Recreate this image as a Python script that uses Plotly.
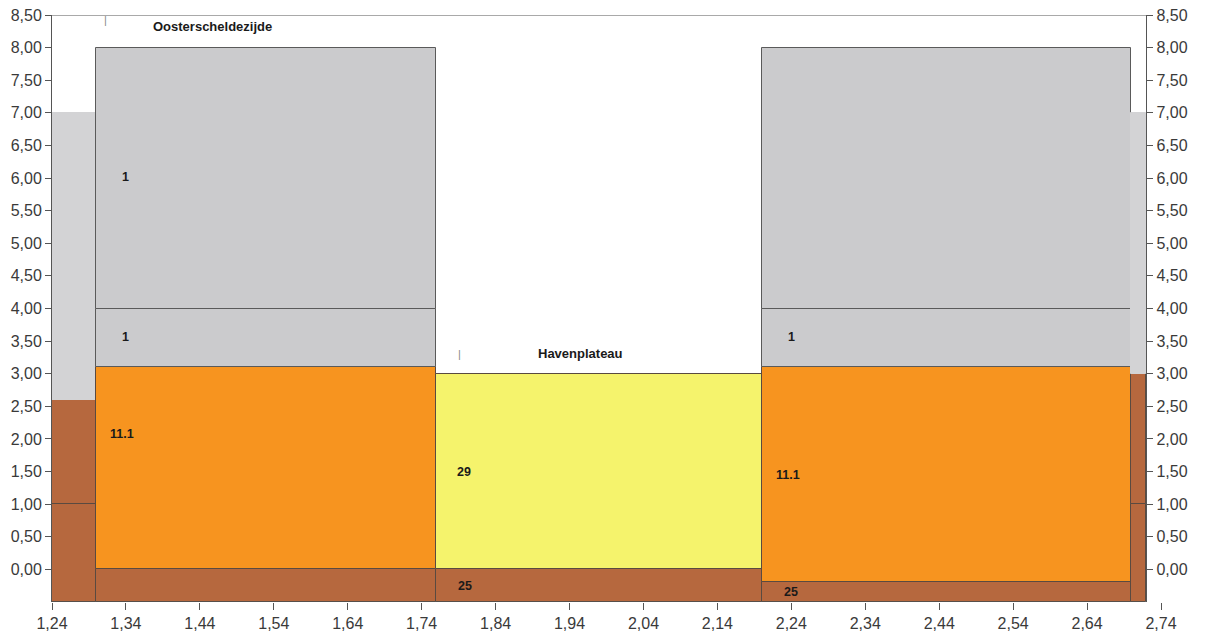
import plotly.graph_objects as go

# ---- data ----
x_min, x_max = 1.24, 2.74
y_min, y_max = -0.5, 8.5
profile_end = 2.72

layer_left   = [1.24, 1.24, 1.24, 1.30, 1.30, 1.30, 1.30, 1.76, 1.76, 2.20, 2.20, 2.20, 2.20, 2.70, 2.70, 2.70]
layer_right  = [1.30, 1.30, 1.30, 1.76, 1.76, 1.76, 1.76, 2.20, 2.20, 2.70, 2.70, 2.70, 2.70, 2.72, 2.72, 2.72]
layer_bottom = [-0.5, 1.0, 2.6, -0.5, 0.0, 3.1, 4.0, -0.5, 0.0, -0.5, -0.2, 3.1, 4.0, -0.5, 1.0, 3.0]
layer_top    = [1.0, 2.6, 7.0, 0.0, 3.1, 4.0, 8.0, 0.0, 3.0, -0.2, 3.1, 4.0, 8.0, 1.0, 3.0, 7.0]
layer_soil   = ["brown", "brown", "grey_l", "brown", "orange", "grey", "grey", "brown", "yellow",
                "brown", "orange", "grey", "grey", "brown", "brown", "grey_l"]
layer_label  = ["", "", "", "", "11.1", "1", "1", "25", "29", "25", "11.1", "1", "", "", "", ""]
label_x      = [None, None, None, None, 1.335, 1.34, 1.34, 1.798, 1.797, 2.24, 2.235, 2.24, None, None, None, None]
label_y      = [None, None, None, None, 2.07, 3.57, 6.02, -0.25, 1.5, -0.35, 1.45, 3.57, None, None, None, None]

section_names = ["Oosterscheldezijde", "Havenplateau"]
section_x     = [1.457, 1.955]
section_y     = [8.32, 3.31]
marker_x      = [1.312, 1.791]
marker_y      = [8.42, 3.31]

soil_colors = {"brown": "#b6683e", "orange": "#f7941f", "yellow": "#f5f36c",
               "grey": "#cbcbcd", "grey_l": "#d3d3d5"}
soil_edges = {"brown": "#5a4a40", "orange": "#5a4a40", "yellow": "#5a4a40",
              "grey": "#5a5a5a", "grey_l": "#d3d3d5"}

y_ticks = [i * 0.5 for i in range(0, 18)]
x_ticks = [round(x_min + i * 0.1, 2) for i in range(16)]

fig = go.Figure()

for i in range(len(layer_left)):
    w = layer_right[i] - layer_left[i]
    fig.add_trace(go.Bar(
        x=[(layer_left[i] + layer_right[i]) / 2],
        y=[layer_top[i] - layer_bottom[i]],
        base=[layer_bottom[i]],
        width=[w],
        marker=dict(color=soil_colors[layer_soil[i]],
                    line=dict(color=soil_edges[layer_soil[i]], width=1)),
        showlegend=False, hoverinfo="skip",
    ))

# invisible trace for right axis
fig.add_trace(go.Scatter(x=[x_min], y=[y_min], yaxis="y2", mode="markers",
                         marker=dict(opacity=0), showlegend=False, hoverinfo="skip"))

lab_font = dict(family="Liberation Sans, Arial", size=12.5, color="#1a1a1a")
sec_font = dict(family="Liberation Sans, Arial", size=13, color="#1a1a1a")
annotations = []
for i in range(len(layer_label)):
    if layer_label[i]:
        annotations.append(dict(x=label_x[i], y=label_y[i], xref="x", yref="y",
                                text="<b>" + layer_label[i] + "</b>", showarrow=False,
                                font=lab_font))
for i in range(len(section_names)):
    annotations.append(dict(x=section_x[i], y=section_y[i], xref="x", yref="y",
                            text="<b>" + section_names[i] + "</b>", showarrow=False,
                            font=sec_font))
    annotations.append(dict(x=marker_x[i], y=marker_y[i], xref="x", yref="y",
                            text="|", showarrow=False,
                            font=dict(family="Liberation Sans, Arial", size=11, color="#888888")))

tickfont = dict(family="Liberation Sans, Arial", size=16, color="#3a3a3a")

# the page body adds an 8px offset, so margins are shifted accordingly
fig.update_layout(
    width=1216, height=643,
    margin=dict(l=44, r=63, t=7, b=49),
    paper_bgcolor="white", plot_bgcolor="white",
    barmode="overlay", bargap=0,
    separators=",.",
    xaxis=dict(range=[x_min, x_max], tickvals=x_ticks, tickformat=".2f", automargin=False,
               showgrid=False, zeroline=False, showline=False, ticklabeloverflow="allow",
               ticks="outside", ticklen=7, tickcolor="#555555", tickfont=tickfont),
    yaxis=dict(range=[y_min, y_max], tickvals=y_ticks, tickformat=".2f", automargin=False,
               showgrid=False, zeroline=False, showline=True, linecolor="#555555", linewidth=1,
               ticklabeloverflow="allow",
               ticks="outside", ticklen=6, tickcolor="#555555", tickfont=tickfont),
    yaxis2=dict(range=[y_min, y_max], tickvals=y_ticks, tickformat=".2f", automargin=False,
                overlaying="y", side="right", anchor="free",
                position=(profile_end - x_min) / (x_max - x_min),
                showgrid=False, zeroline=False, showline=True, linecolor="#555555", linewidth=1,
                ticklabeloverflow="allow",
                ticks="outside", ticklen=6, tickcolor="#555555", tickfont=tickfont),
    annotations=annotations,
    shapes=[
        dict(type="line", xref="x", yref="y", x0=x_min, x1=profile_end, y0=y_max, y1=y_max,
             line=dict(color="#555555", width=1)),
        dict(type="line", xref="x", yref="y", x0=x_min, x1=profile_end, y0=y_min, y1=y_min,
             line=dict(color="#555555", width=1)),
    ],
)

fig.write_html("out.html")
